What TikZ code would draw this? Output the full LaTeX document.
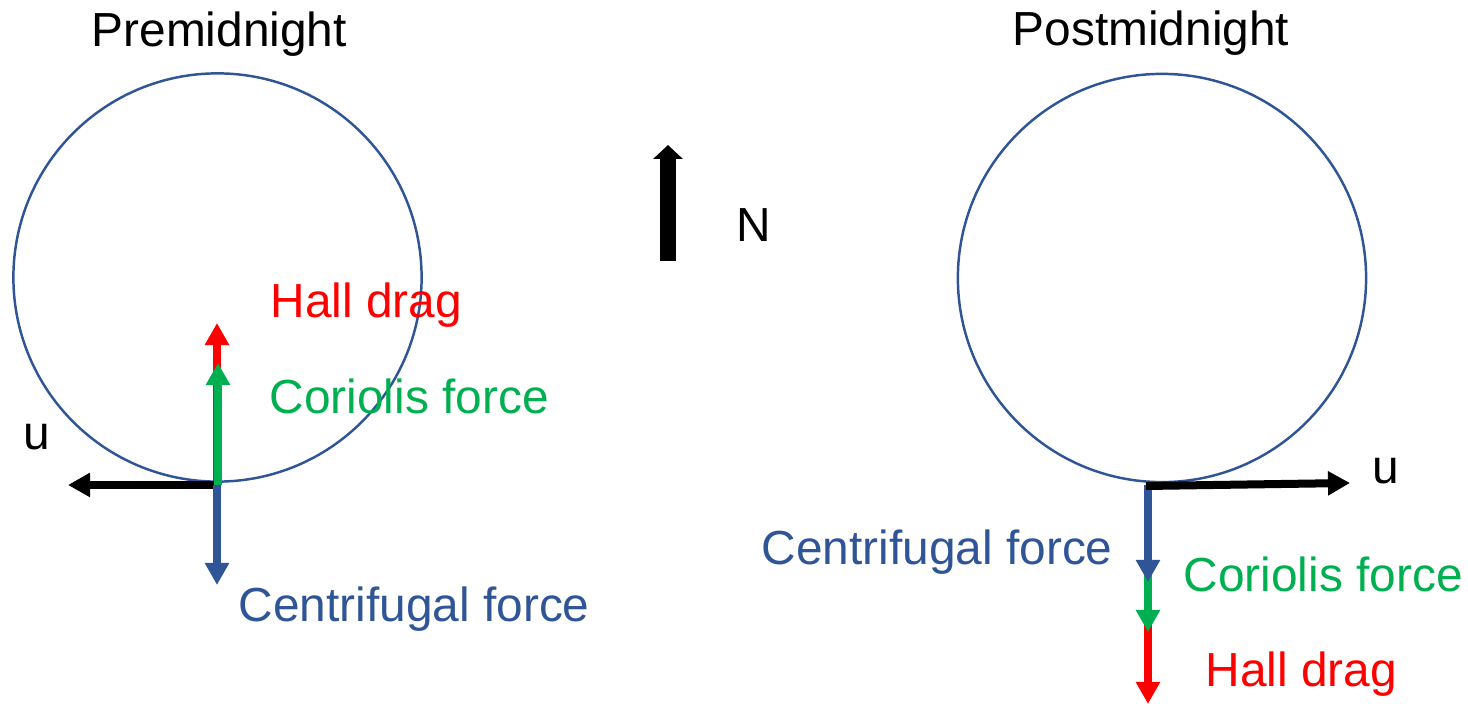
\documentclass[tikz,border=0pt]{standalone}
\usepackage{fontspec}
\setmainfont{Liberation Sans}
\usepackage{tikz}
\usetikzlibrary{arrows.meta}
\definecolor{hallred}{HTML}{FF0000}
\definecolor{corgreen}{HTML}{00B050}
\definecolor{cenblue}{HTML}{2F5597}
\begin{document}
\begin{tikzpicture}[x=0.01cm,y=-0.01cm,
  lbl/.style={anchor=base west,inner sep=0pt,font=\fontsize{13.6}{16}\selectfont},
  orbit/.style={draw=cenblue,line width=0.7pt,circle,minimum size=4.08cm,inner sep=0pt},
  force/.style={line width=0.075cm,-{Triangle[width=0.23cm,length=0.22cm]}},
  wind/.style={force,line width=0.08cm}]
\useasboundingbox (0,0) rectangle (1468,704);
% titles
\node[lbl] (pret) at (91,47) {Premidnight};
\node[lbl] (postt) at (1012,46) {Postmidnight};
% north arrow
\coordinate (ns) at (668,261);
\coordinate (nn) at (668,145);
\draw[line width=0.15cm,-{Triangle[width=0.29cm,length=0.14cm]}] (ns) -- (nn);
\node[lbl] (n) at (736,242) {N};
% premidnight
\node[orbit] (prec) at (217.5,277.5) {};
\coordinate (preo) at (217,485);
\coordinate (preh) at (217,323);
\coordinate (prec2) at (218,363);
\coordinate (pref) at (217,585);
\coordinate (preu) at (68,485);
\draw[force,hallred] (preo) -- (preh);
\draw[force,corgreen] (218,485) -- (prec2);
\draw[wind,black] (214,485) -- (preu);
\draw[force,cenblue] (preo) -- (pref);
\node[lbl,text=hallred] (preht) at (270,318) {Hall drag};
\node[lbl,text=corgreen] (prect) at (269,414) {Coriolis force};
\node[lbl,text=cenblue] (preft) at (238,622) {Centrifugal force};
\node[lbl] (preut) at (23,450) {u};
% postmidnight
\node[orbit] (postc) at (1162,278) {};
\coordinate (posto) at (1148,485);
\coordinate (posth) at (1148,704);
\coordinate (postc2) at (1148,632);
\coordinate (postf) at (1148,582);
\coordinate (postu) at (1350,483);
\draw[force,hallred] (posto) -- (posth);
\draw[force,corgreen] (posto) -- (postc2);
\draw[force,cenblue] (posto) -- (postf);
\draw[wind,black] (1146,486) -- (postu);
\node[lbl,text=cenblue] (postft) at (761,565) {Centrifugal force};
\node[lbl,text=corgreen] (postct) at (1183,592) {Coriolis force};
\node[lbl,text=hallred] (postht) at (1205,687) {Hall drag};
\node[lbl] (postut) at (1372,484) {u};
\end{tikzpicture}
\end{document}
